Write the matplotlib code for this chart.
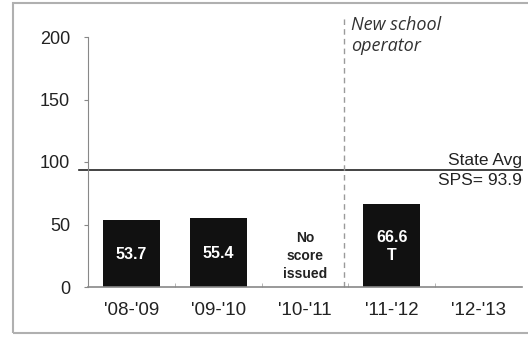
import matplotlib.pyplot as plt
import matplotlib.patches as mpatches

# School performance scores by year
years = ["'08-'09", "'09-'10", "'10-'11", "'11-'12", "'12-'13"]
scores = [53.7, 55.4, None, 66.6, None]
bar_labels = ["53.7", "55.4", None, "66.6\nT", None]
state_avg = 93.9

plt.rcParams['font.family'] = ['Liberation Sans', 'DejaVu Sans']

fig = plt.figure(figsize=(5.28, 3.37), dpi=100)
ax = fig.add_axes([88 / 528, 50 / 337, 434 / 528, 250 / 337])

# outer frame around the chart
frame = mpatches.Rectangle((13 / 528, 4 / 337), 1.0, 330 / 337, transform=fig.transFigure,
                           fill=False, edgecolor='#b0b0b0', linewidth=1.5)
fig.patches.append(frame)

xs = range(len(years))
for x, s, lab in zip(xs, scores, bar_labels):
    if s is None:
        continue
    ax.bar(x, s, width=0.66, color='#111111', zorder=2)
    ax.text(x, s / 2 - 1, lab, ha='center', va='center', color='white',
            fontsize=11.5, fontweight='bold', linespacing=1.25, zorder=3)

ax.text(2, 25, "No\nscore\nissued", ha='center', va='center', color='#222222',
        fontsize=10, fontweight='bold', linespacing=1.35)

# state average reference line
ax.plot([-0.6, 4.5], [state_avg, state_avg], color='#222222', lw=1.2, clip_on=False, zorder=1)
ax.text(4.5, state_avg + 1.5, "State Avg", ha='right', va='bottom', fontsize=12.5, color='#222222')
ax.text(4.5, state_avg - 2.5, "SPS= " + str(state_avg), ha='right', va='top',
        fontsize=12.5, color='#222222')

# operator change marker
ax.plot([2.45, 2.45], [0, 218], color='#9a9a9a', lw=1, ls=(0, (4, 3)), clip_on=False)
ax.text(2.53, 217, "New school\noperator", ha='left', va='top', fontsize=13,
        style='italic', family='Open Sans', color='#333333', linespacing=1.2)

ax.set_xlim(-0.5, 4.5)
ax.set_ylim(0, 200)
ax.set_yticks([0, 50, 100, 150, 200])
ax.set_xticks(list(xs))
ax.set_xticklabels(years)
ax.set_xticks([0.5, 1.5, 2.5, 3.5], minor=True)
ax.tick_params(axis='y', length=3, pad=10, labelsize=13, colors='#222222', color='#888888')
ax.tick_params(axis='x', which='major', length=0, pad=11, labelsize=13.5, colors='#222222')
ax.tick_params(axis='x', which='minor', length=3, direction='in', color='#aaaaaa')

for side in ['top', 'right']:
    ax.spines[side].set_visible(False)
ax.spines['left'].set_color('#888888')
ax.spines['bottom'].set_color('#888888')
ax.spines['bottom'].set_linewidth(1.2)

fig.savefig('out.png', dpi=100)
